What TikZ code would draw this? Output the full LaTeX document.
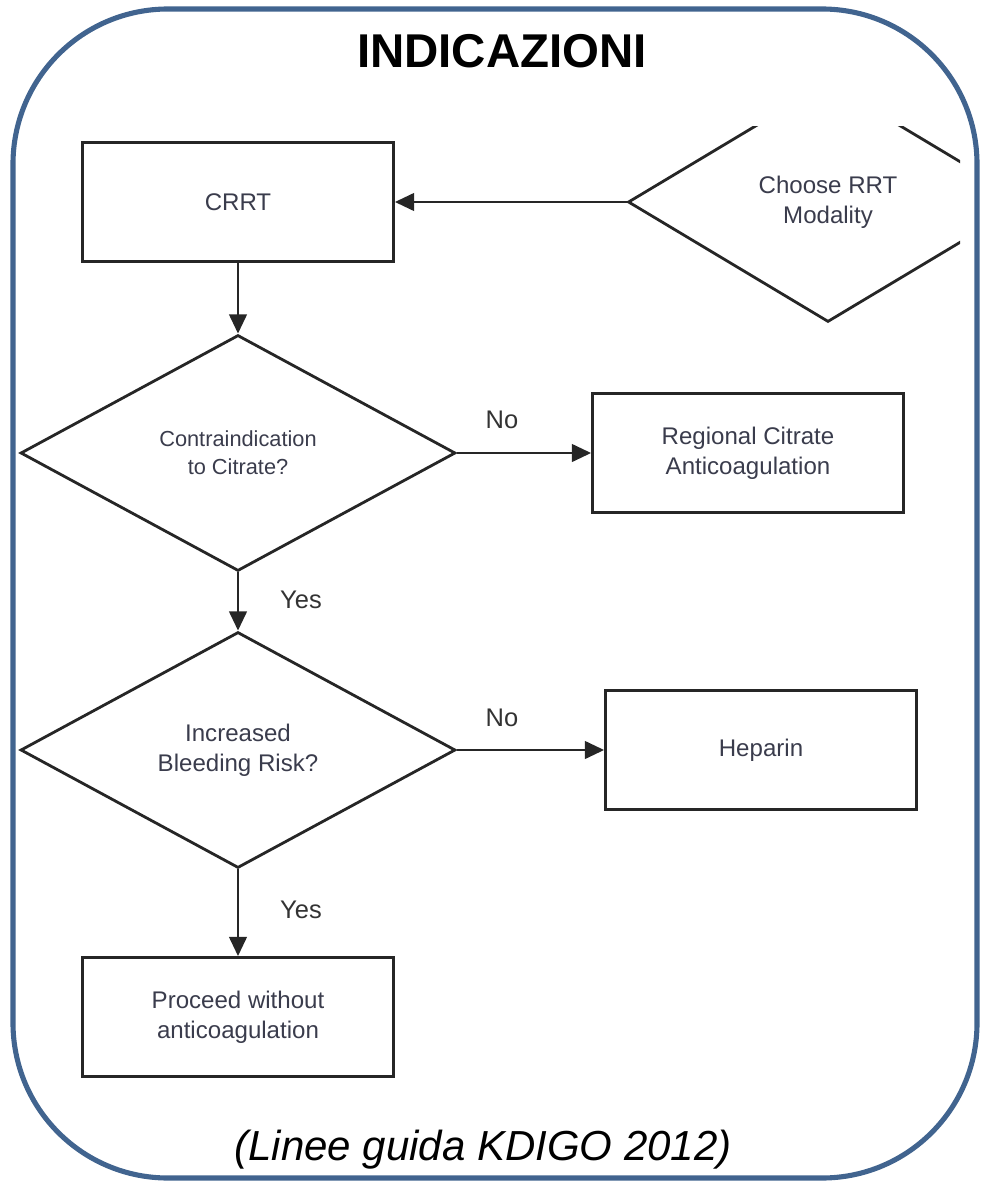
\documentclass[tikz,border=0pt]{standalone}
\usepackage{fontspec}
\setmainfont{Liberation Sans}
\usetikzlibrary{shapes.geometric,arrows.meta}
\definecolor{framebl}{HTML}{41648F}
\definecolor{boxtxt}{HTML}{3A3C4C}
\tikzset{
  stepbox/.style={draw=black!85,line width=1.6pt,minimum width=6.22cm,minimum height=2.38cm,
    align=center,text=boxtxt,font=\fontsize{13.7}{17}\selectfont},
  query/.style={diamond,draw=black!85,line width=1.6pt,inner sep=0pt,minimum width=8.7cm,
    minimum height=4.72cm,align=center,text=boxtxt,font=\fontsize{13.7}{17}\selectfont},
  flow/.style={draw=black!85,line width=1.6pt,-{Triangle[length=11pt,width=10pt]}},
  answer/.style={text=black!80,font=\fontsize{14.5}{17}\selectfont}
}
\begin{document}
\begin{tikzpicture}[x=0.02cm,y=-0.02cm]
\useasboundingbox (0,0) rectangle (980,1182);
% outer frame
\draw[framebl,line width=2.9pt,rounded corners=3.1cm] (13,9) rectangle (977,1178);
\node[font=\fontsize{27}{30}\selectfont\bfseries,anchor=base] (title) at (502,68) {INDICAZIONI};
% modality choice, cut at the top and right
\begin{scope}
\clip (600,127) rectangle (960,340);
\node[query,minimum width=8cm,minimum height=4.8cm] (choose) at (828,202) {Choose RRT\\Modality};
\end{scope}
\node[stepbox] (crrt) at (238,202) {CRRT};
\node[query,font=\fontsize{12.4}{16}\selectfont] (citq) at (238,453) {Contraindication\\to Citrate?};
\node[stepbox] (rca) at (748,453) {Regional Citrate\\Anticoagulation};
\node[query] (bleedq) at (238,750) {Increased\\Bleeding Risk?};
\node[stepbox] (hep) at (761,750) {Heparin};
\node[stepbox] (noac) at (238,1017) {Proceed without\\anticoagulation};
% connectors
\draw[flow] (choose.west) -- (crrt.east);
\draw[flow] (crrt.south) -- (citq.north);
\draw[flow] (citq.east) -- (rca.west);
\draw[flow] (citq.south) -- (bleedq.north);
\draw[flow] (bleedq.east) -- (hep.west);
\draw[flow] (bleedq.south) -- (noac.north);
\node[answer] (no1) at (502,420) {No};
\node[answer] (yes1) at (301,600) {Yes};
\node[answer] (no2) at (502,718) {No};
\node[answer] (yes2) at (301,910) {Yes};
\node[font=\fontsize{23.9}{27}\selectfont\itshape,anchor=base] (src) at (483,1160) {(Linee guida KDIGO 2012)};
\end{tikzpicture}
\end{document}
